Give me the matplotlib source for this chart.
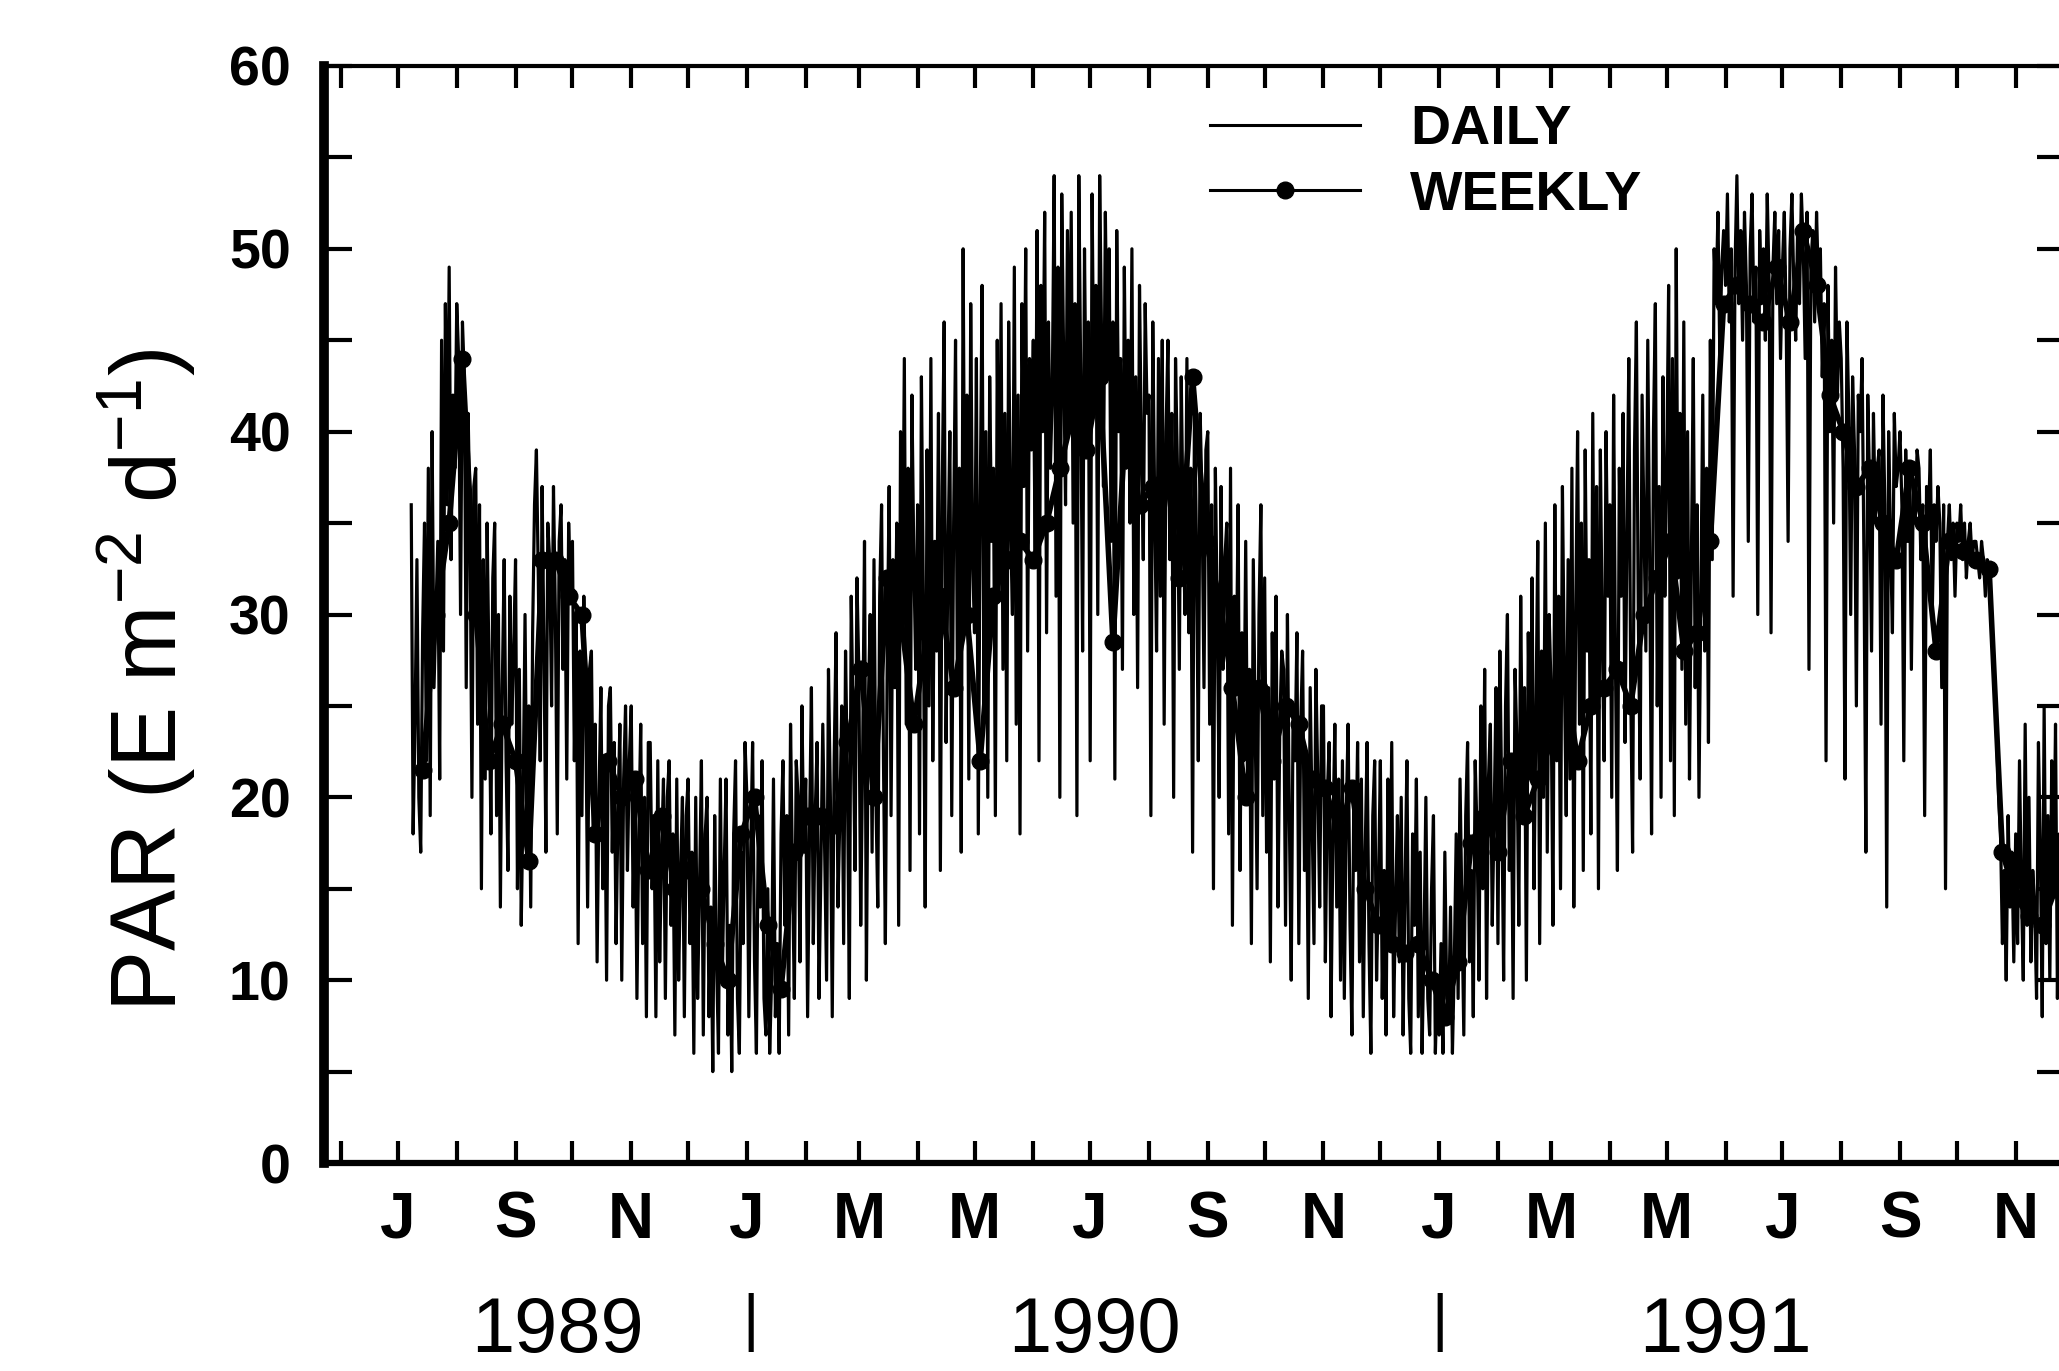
"""
PAR daily and weekly record, Jul 1989 - Nov 1991.
Rebuilds the scanned figure: daily trace + weekly means with dots.
"""

import numpy as np
import matplotlib
matplotlib.use("Agg")
import matplotlib.pyplot as plt
import matplotlib.dates as mdates
from matplotlib.ticker import FixedLocator, FixedFormatter, MultipleLocator


# ── 1. Data ───────────────────────────────────────────────────────────────────
daily_start = np.datetime64("1989-07-08")

# Jul 8 - Dec 31 1989
daily_1989 = [
    36, 18, 24, 33, 20, 17, 29, 35,
    22, 38, 19, 40, 26, 30, 34,
    21, 45, 28, 47, 36, 49, 33, 42, 38,
    47, 44, 30, 46, 43, 26, 41, 35, 20, 37,
    38, 24, 36, 15, 33, 21, 35, 27, 18, 32,
    35, 19, 30, 14, 26, 33, 22, 16, 31, 24, 28,
    33, 15, 27, 13, 20, 30, 18, 25, 14, 29,
    36, 39, 32, 22, 37, 28, 17, 35, 33, 25,
    37, 30, 18, 34, 36, 27, 33, 21, 35, 31,
    34, 22, 30, 12, 28, 19, 31, 25, 14, 27,
    28, 18, 24, 11, 20, 26, 15, 22, 10, 25,
    26, 17, 23, 12, 19, 24, 10, 21, 25, 16, 22,
    25, 14, 21, 9, 18, 24, 12, 20, 8, 23,
    23, 15, 19, 8, 22, 11, 17, 21, 9, 20,
    22, 13, 18, 7, 21, 10, 16, 20, 8, 19,
    21, 12, 17, 6, 20, 9, 15, 22, 7, 18,
    20, 8, 14, 5, 19, 11, 6, 21, 10, 16,
    21, 7, 13, 5, 18, 22, 9, 6, 17, 12, 23,
]

# Jan 1 - Dec 31 1990
daily_1990 = [
    20, 8, 17, 23, 11, 6, 19, 14, 22, 9,
    7, 15, 6, 10, 21, 8, 12, 6, 18, 22,
    13, 19, 7, 24, 16, 9, 22, 20, 11, 25, 17,
    21, 8, 18, 26, 12, 19, 23, 9, 16, 24,
    17, 10, 27, 20, 8, 22, 29, 14, 19, 25,
    12, 28, 21, 9, 31, 24, 16, 32,
    27, 13, 22, 34, 10, 25, 30, 17, 33, 20,
    14, 31, 36, 22, 12, 28, 37, 19, 33, 26,
    35, 13, 40, 29, 44, 24, 38, 16, 42, 33, 27,
    36, 18, 43, 31, 14, 39, 25, 44, 22, 34,
    28, 41, 16, 37, 46, 23, 33, 40, 19, 35,
    45, 26, 38, 17, 50, 30, 42, 21, 47, 33,
    29, 44, 18, 36, 48, 25, 40, 20, 43, 34,
    38, 19, 45, 31, 47, 27, 41, 22, 46, 35,
    30, 49, 24, 42, 18, 47, 37, 50, 28, 44, 39,
    45, 33, 51, 22, 48, 40, 52, 29, 46, 38,
    42, 54, 31, 49, 20, 53, 44, 36, 51, 40,
    52, 35, 47, 19, 54, 43, 28, 50, 39, 46,
    22, 53, 41, 48, 30, 54, 45, 37, 52, 43,
    50, 34, 46, 21, 51, 40, 44, 27, 49, 38,
    45, 35, 50, 30, 43, 26, 48, 39, 33, 47, 41,
    42, 19, 46, 36, 28, 44, 31, 45, 24, 40,
    45, 33, 41, 20, 44, 38, 27, 43, 35, 30,
    44, 29, 38, 17, 42, 34, 22, 41, 36, 26, 39,
    40, 24, 36, 15, 38, 30, 20, 37, 27, 33,
    35, 18, 38, 13, 31, 26, 36, 16, 29, 22,
    34, 20, 27, 12, 33, 24, 15, 30, 36, 19,
    32, 17, 26, 11, 29, 21, 31, 14, 24, 28,
    27, 13, 30, 19, 10, 25, 22, 29, 12, 24,
    28, 16, 22, 9, 26, 19, 12, 27, 21, 14, 25,
    25, 11, 20, 23, 8, 18, 24, 14, 21, 10,
    22, 9, 19, 24, 13, 7, 20, 16, 23, 11,
    21, 8, 17, 23, 12, 6, 19, 22, 10, 15,
    22, 9, 16, 7, 21, 12, 23, 8, 14, 19,
    11, 20, 7, 15, 22, 9, 6, 18, 13, 21,
    8, 17, 6, 12, 20, 9, 7, 15, 19, 6, 10,
]

# Jan 1 - Nov 26 1991
daily_1991 = [
    7, 12, 6, 17, 9, 8, 14, 6, 11, 18,
    9, 21, 14, 7, 19, 23, 11, 16, 8, 22,
    18, 10, 25, 15, 27, 9, 21, 24, 13, 19, 26,
    12, 28, 20, 10, 25, 30, 16, 22, 9, 27,
    23, 13, 31, 19, 26, 10, 29, 21, 32, 15,
    24, 34, 12, 28, 20, 35, 17, 30,
    26, 13, 36, 22, 31, 15, 37, 27, 19, 33,
    21, 38, 14, 30, 40, 24, 35, 16, 39, 28,
    33, 18, 41, 25, 37, 15, 39, 29, 22, 40, 31,
    36, 20, 42, 27, 16, 38, 31, 41, 23, 34,
    44, 26, 17, 39, 46, 30, 21, 42, 35, 28,
    45, 33, 18, 40, 47, 25, 37, 20, 43, 31,
    38, 48, 22, 44, 19, 50, 32, 41, 27, 46,
    24, 40, 21, 33, 44, 26, 36, 20, 31, 42,
    28, 38, 23, 45, 33, 50, 47, 52, 44, 49, 51,
    48, 53, 46, 50, 31, 49, 54, 47, 51, 45,
    52, 48, 34, 50, 53, 46, 49, 30, 51, 47,
    50, 45, 53, 48, 29, 49, 52, 47, 51, 44,
    49, 52, 46, 34, 50, 53, 48, 45, 51, 47,
    53, 50, 44, 52, 27, 49, 51, 46, 52, 48,
    50, 43, 47, 22, 48, 40, 45, 35, 49, 42, 46,
    44, 38, 21, 46, 41, 30, 43, 39, 25, 42,
    40, 44, 33, 17, 42, 37, 28, 41, 35, 38,
    39, 24, 42, 36, 14, 40, 34, 29, 41, 37, 38,
    40, 36, 22, 39, 34, 38, 27, 37, 35, 39,
    38, 33, 36, 19, 37, 35, 39, 30, 36, 34,
    37, 35, 26, 36, 15, 34, 36, 33, 35, 31,
    35, 34, 36, 33, 35, 32, 34, 35, 33, 34,
    34, 33, 32, 34, 33, 31, 33, 32, 30, 28,
    26, 23, 20, 18, 12, 16, 10, 19, 14, 17, 11,
    18, 12, 22, 15, 10, 24, 13, 20, 11, 16,
    14, 9, 23, 17, 8, 25, 12, 19, 10, 22,
    15, 24, 9, 18, 8, 21,
]

# weekly means, one every 7 days from Jul 14 1989
weekly_start = np.datetime64("1989-07-14")
weekly_par = [
    21.5, 30, 35, 44, 30, 22, 24, 22, 16.5, 33,
    33, 31, 30, 18, 22, 20, 21, 16, 19, 15,
    16, 15, 12, 10, 18, 20, 13, 9.5, 17, 19,
    19, 18.5, 23, 27, 20, 32, 30, 24, 29, 31,
    26, 30, 22, 31, 33, 34, 33, 35, 38, 41,
    39, 43, 28.5, 41, 36, 37, 38, 32, 43, 34,
    31, 26, 20, 26, 22, 25, 24, 21, 20.5, 18,
    20.5, 15, 13, 12, 11.5, 12, 10, 8, 11, 17.5,
    19, 17, 22, 19, 21, 23, 27, 22, 25, 26,
    27, 25, 30, 32, 34, 28, 29, 34, 47, 48,
    47, 46, 49, 46, 51, 48, 42, 40, 37, 38,
    35, 33, 38, 35, 28, 34, 33.5, 33, 32.5, 17,
    14.5, 13.5, 13, 15,
]

# axis labelling
label_months = np.array(["1989-07", "1989-09", "1989-11", "1990-01", "1990-03",
                         "1990-05", "1990-07", "1990-09", "1990-11", "1991-01",
                         "1991-03", "1991-05", "1991-07", "1991-09", "1991-11"],
                        dtype="datetime64[M]")
month_labels = ["J", "S", "N", "J", "M", "M", "J", "S", "N",
                "J", "M", "M", "J", "S", "N"]
year_labels = ["1989", "1990", "1991"]


# ── 2. Fonts ──────────────────────────────────────────────────────────────────
plt.rcParams["font.family"] = ["Liberation Sans", "DejaVu Sans"]
plt.rcParams["mathtext.fontset"] = "custom"
plt.rcParams["mathtext.rm"] = "Liberation Sans"
plt.rcParams["mathtext.default"] = "regular"


# ── 3. Figure ─────────────────────────────────────────────────────────────────
W, H = 2059, 1371
fig = plt.figure(figsize=(W / 100, H / 100), dpi=100)
ax = fig.add_axes([324 / W, 1 - 1163 / H, (2065 - 324) / W, (1163 - 66) / H])

daily_par = np.array(daily_1989 + daily_1990 + daily_1991, dtype=float)
days = daily_start + np.arange(len(daily_par))
weeks = weekly_start + 7 * np.arange(len(weekly_par))

ax.plot(days, daily_par, color="black", lw=2.3, label="DAILY")
ax.plot(weeks, weekly_par, color="black", lw=4, marker="o", ms=12,
        label="WEEKLY")

ax.set_xlim(np.datetime64("1989-05-23"), np.datetime64("1991-11-27"))
ax.set_ylim(0, 60)

# x ticks: labelled odd months, unlabelled even months
ax.xaxis.set_major_locator(FixedLocator(mdates.date2num(label_months.astype("datetime64[D]"))))
ax.xaxis.set_major_formatter(FixedFormatter(month_labels))
ax.xaxis.set_minor_locator(mdates.MonthLocator(bymonth=[2, 4, 6, 8, 10, 12]))
ax.tick_params(axis="x", which="both", direction="in", length=16, width=3,
               top=True, bottom=True, pad=20)
ax.tick_params(axis="x", which="major", labelsize=46)

ax.yaxis.set_major_locator(MultipleLocator(10))
ax.yaxis.set_minor_locator(MultipleLocator(5))
ax.tick_params(axis="y", which="both", direction="in", length=20, width=3,
               left=True, right=True, pad=24)
ax.tick_params(axis="y", which="major", labelsize=40)

for lab in ax.get_xticklabels() + ax.get_yticklabels():
    lab.set_fontweight("bold")

ax.spines["left"].set_linewidth(7)
ax.spines["bottom"].set_linewidth(4.5)
ax.spines["top"].set_linewidth(3)
ax.spines["right"].set_linewidth(3)

# year row beneath the month letters
xtrans = ax.get_xaxis_transform()
year_pos = ["1989-09-23", "1990-07-03", "1991-06-01"]
for yr, pos in zip(year_labels, year_pos):
    ax.text(mdates.date2num(np.datetime64(pos)), -0.154, yr, transform=xtrans,
            ha="center", va="center", fontsize=56, clip_on=False)
for pos in ["1990-01-03", "1991-01-01"]:
    ax.text(mdates.date2num(np.datetime64(pos)), -0.145, "|", transform=xtrans,
            ha="center", va="center", fontsize=45, clip_on=False)

fig.text(147 / W, 1 - 680 / H, "PAR (E m$^{-2}$ d$^{-1}$)", rotation=90,
         ha="center", va="center", fontsize=66)

leg = ax.legend(loc="upper left", bbox_to_anchor=(1210 / W, 1 - 104 / H),
                bbox_transform=fig.transFigure, frameon=False, numpoints=1,
                fontsize=40, handlelength=2.7, handletextpad=0.9,
                labelspacing=0.25, borderpad=0, borderaxespad=0)
for t in leg.get_texts():
    t.set_fontweight("bold")
for h in leg.get_lines():
    h.set_linewidth(2.2)

fig.savefig("out.png", dpi=100)
